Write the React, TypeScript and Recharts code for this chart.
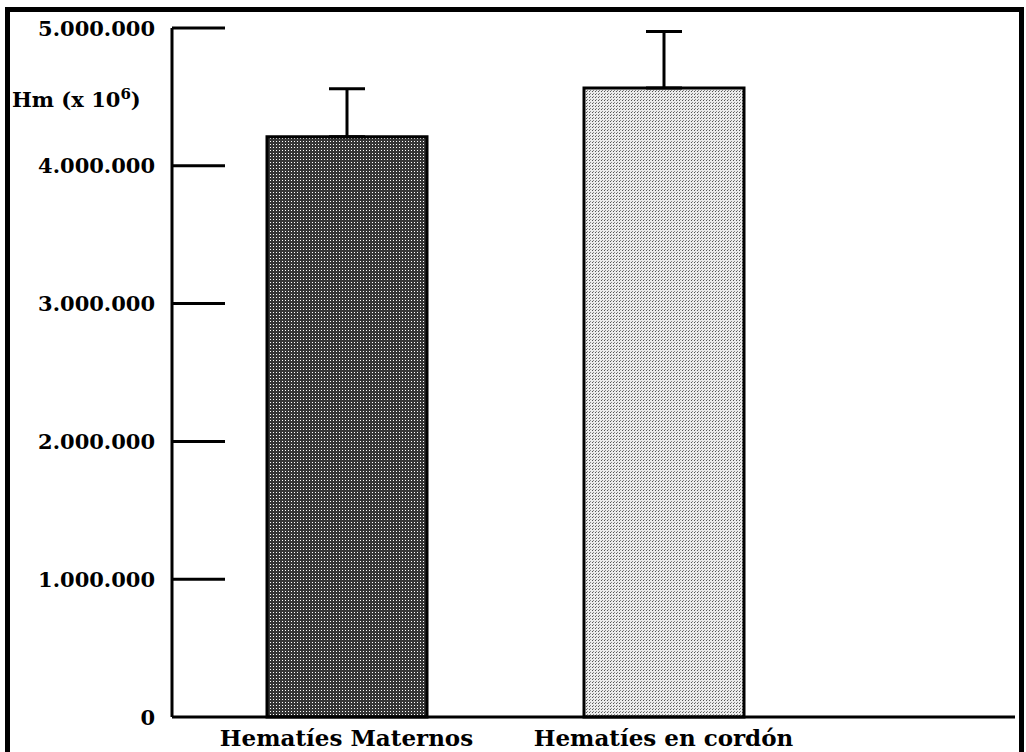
import { Bar, BarChart, Cell, ErrorBar, XAxis, YAxis } from 'recharts'

const categories = ['Hematíes Maternos', 'Hematíes en cordón']
const means = [4210000, 4565000]
// upper error only, the lower whisker sits on the bar top
const upperErr = [350000, 410000]
const yTicks = [0, 1000000, 2000000, 3000000, 4000000, 5000000]
const fills = ['url(#dotsDark)', 'url(#dotsLight)']

const data = categories.map((name, i) => ({
  name,
  value: means[i],
  err: [0, upperErr[i]],
}))

const FONT = '"DejaVu Serif", serif'

function fmt(v: number) {
  return String(v).replace(/\B(?=(\d{3})+(?!\d))/g, '.')
}

type TickProps = { x: number; y: number; payload: { value: number } }

function YTick({ x, y, payload }: TickProps) {
  return (
    <g>
      <text
        x={x}
        y={y}
        textAnchor="end"
        dominantBaseline="central"
        fontFamily={FONT}
        fontWeight="bold"
        fontSize={21}
        fill="#000"
      >
        {fmt(payload.value)}
      </text>
      {/* ticks point inward, into the plot */}
      {payload.value !== 0 && (
        <line x1={x + 17} x2={x + 70} y1={y} y2={y} stroke="#000" strokeWidth={3} />
      )}
    </g>
  )
}

export default function App() {
  return (
    <div
      style={{
        position: 'absolute',
        left: 0,
        top: 0,
        width: 1026,
        height: 752,
        overflow: 'hidden',
        background: '#fff',
      }}
    >
      <div
        style={{
          position: 'absolute',
          left: 5,
          top: 7,
          width: 1009,
          height: 780,
          border: '5px solid #000',
        }}
      />
      <div
        style={{
          position: 'absolute',
          left: 12,
          top: 80,
          fontFamily: FONT,
          fontWeight: 'bold',
          fontSize: 21,
          lineHeight: '28px',
          color: '#000',
        }}
      >
        Hm (x 10<sup style={{ fontSize: 15 }}>6</sup>)
      </div>
      <BarChart
        width={1026}
        height={752}
        data={data}
        margin={{ top: 28, right: 11, bottom: 0, left: 0 }}
        style={{ position: 'absolute', left: 0, top: 0 }}
      >
        <defs>
          <pattern id="dotsDark" width={3} height={3} patternUnits="userSpaceOnUse">
            <rect width={3} height={3} fill="#353535" />
            <rect x={0} y={0} width={1} height={1} fill="#fff" />
          </pattern>
          <pattern id="dotsLight" width={3} height={3} patternUnits="userSpaceOnUse">
            <rect width={3} height={3} fill="#ececec" />
            <rect x={1} y={1} width={1} height={1} fill="#555" />
            <rect x={2} y={0} width={1} height={1} fill="#888" />
          </pattern>
        </defs>
        <XAxis
          dataKey="name"
          height={35}
          padding={{ left: 16, right: 193 }}
          axisLine={{ stroke: '#000', strokeWidth: 3 }}
          tickLine={false}
          tickSize={0}
          tickMargin={13}
          tick={{ fill: '#000', fontSize: 23, fontWeight: 'bold', fontFamily: FONT }}
          interval={0}
        />
        <YAxis
          width={172}
          domain={[0, 5000000]}
          ticks={yTicks}
          axisLine={{ stroke: '#000', strokeWidth: 3 }}
          tickLine={false}
          tickSize={0}
          tickMargin={17}
          tick={(p: any) => <YTick {...p} />}
          interval={0}
        />
        <Bar dataKey="value" barSize={160} stroke="#000" strokeWidth={3} isAnimationActive={false}>
          {data.map((d, i) => (
            <Cell key={d.name} fill={fills[i]} />
          ))}
          <ErrorBar dataKey="err" direction="y" width={18} stroke="#000" strokeWidth={3} />
        </Bar>
      </BarChart>
    </div>
  )
}
